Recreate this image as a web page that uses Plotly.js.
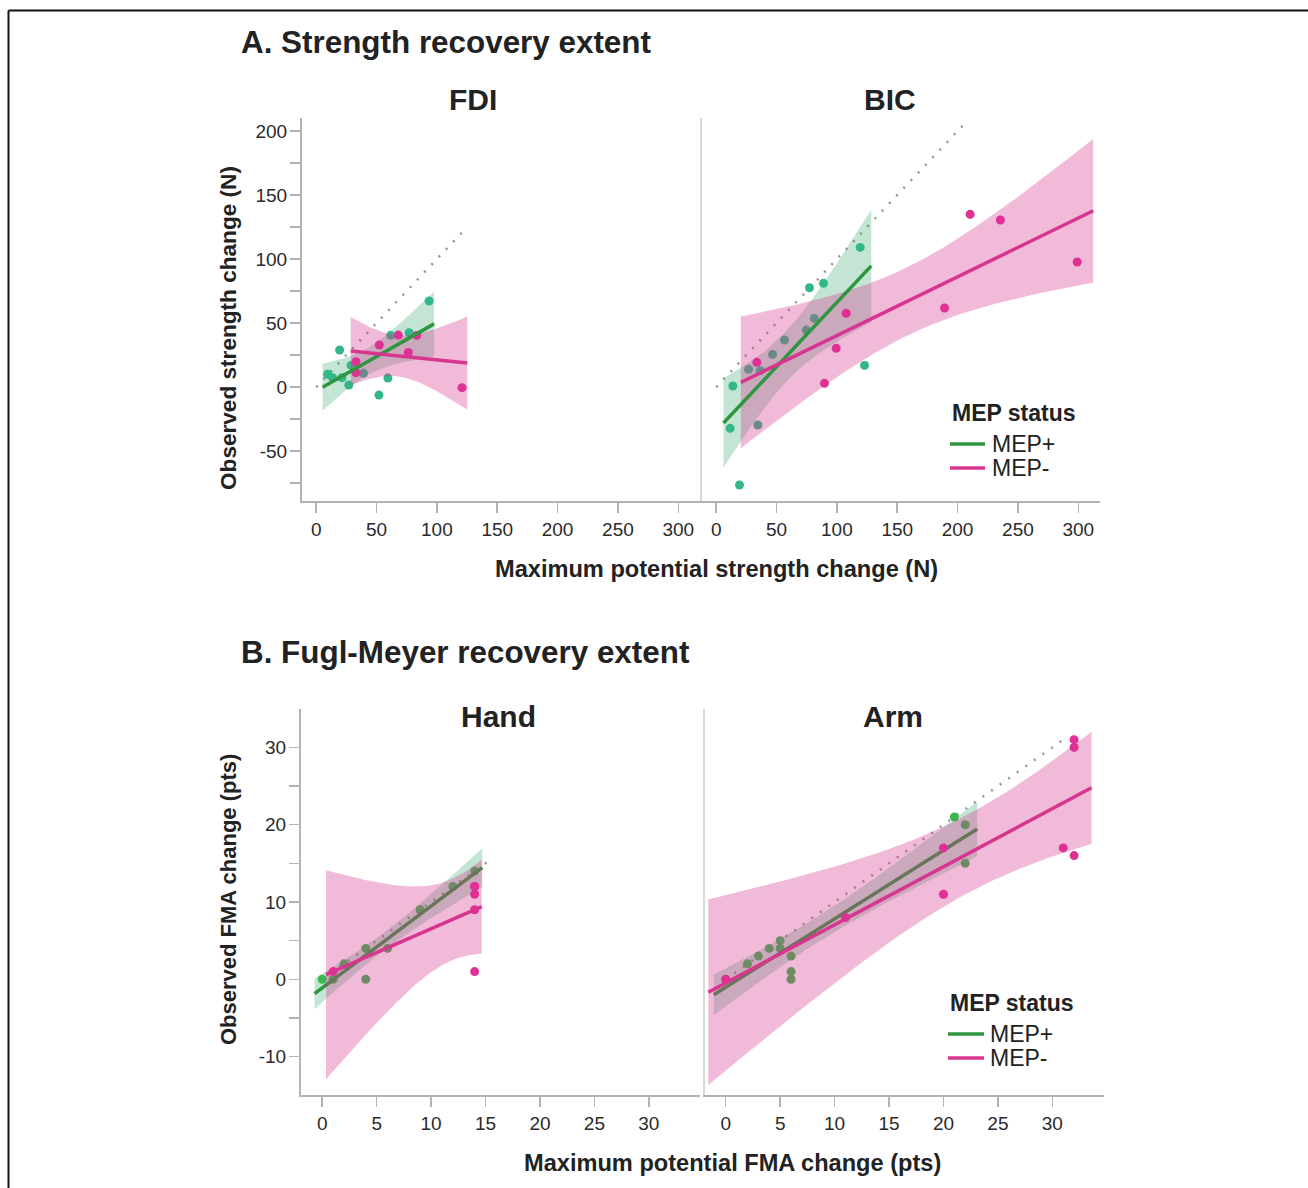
<!DOCTYPE html>
<html>
<head>
<meta charset="utf-8">
<script src="https://cdn.plot.ly/plotly-3.0.1.min.js"></script>
<style>html,body{margin:0;padding:0;background:#fff;}#chart{width:1308px;height:1188px;}</style>
</head>
<body>
<div id="chart"></div>
<script>
// ---------------- DATA ----------------
// Panel A, FDI (N)
const fdiPlusX  = [9.5, 13.6, 21.4, 27, 19.4, 28.9, 39.2, 52, 59.4, 61.7, 77, 93.5];
const fdiPlusY  = [10, 7.3, 7.3, 1.6, 28.9, 16.9, 10.7, -6.3, 7, 40.4, 42.4, 67.2];
const fdiMinusX = [33, 33, 52.3, 68, 76.3, 83.3, 120.8];
const fdiMinusY = [19.8, 11.2, 32.8, 40.6, 27, 40.3, -0.5];
// Panel A, BIC (N)
const bicPlusX  = [11.6, 13.8, 19.3, 26.8, 34.5, 36.5, 46.7, 56.6, 74.6, 77.3, 81.2, 88.9, 119.3, 122.9];
const bicPlusY  = [-32.3, 0.8, -76.6, 13.8, -29.7, 12.8, 25.5, 36.7, 44.5, 77.6, 53.6, 81, 109.1, 16.9];
const bicMinusX = [33.7, 89.7, 99.4, 107.7, 189.2, 210.4, 235.5, 299.1];
const bicMinusY = [19.3, 2.9, 30.2, 57.6, 61.7, 134.9, 130.5, 97.7];
// Panel B, Hand (pts)
const handPlusX  = [0, 1, 2, 4, 4, 6, 9, 12, 14];
const handPlusY  = [0, 0, 2, 4, 0, 4, 9, 12, 14];
const handMinusX = [1, 14, 14, 14, 14, 14];
const handMinusY = [1, 12, 12, 11, 9, 1];
// Panel B, Arm (pts)
const armPlusX  = [0, 2, 3, 4, 5, 5, 6, 6, 6, 21, 22, 22];
const armPlusY  = [0, 2, 3, 4, 5, 4, 3, 1, 0, 21, 20, 15];
const armMinusX = [0, 11, 20, 20, 31, 32, 32, 32];
const armMinusY = [0, 8, 17, 11, 17, 16, 31, 30];
// identity (y = x) reference line end, per panel
const identityEnd = {FDI: 124, BIC: 204, Hand: 15.4, Arm: 31};
// tick labels
const strengthTicks = [0, 50, 100, 150, 200, 250, 300];
const strengthYTicks = [-75, -50, -25, 0, 25, 50, 75, 100, 125, 150, 175, 200];
const fmaTicks = [0, 5, 10, 15, 20, 25, 30];
const fmaYTicks = [-10, -5, 0, 5, 10, 15, 20, 25, 30];
const groupNames = ['MEP+', 'MEP-'];

// ---------------- helpers ----------------
const W = 1308, H = 1188;
const PX = p => p / W;
const PY = p => 1 - p / H;
const FONT = 'Liberation Sans, Arial, Helvetica, sans-serif';
const T975 = [NaN,12.706,4.303,3.182,2.776,2.571,2.447,2.365,2.306,2.262,2.228,2.201,2.179,2.160,2.145,2.131,2.120,2.110,2.101,2.093,2.086,2.080,2.074,2.069,2.064,2.060,2.056,2.052,2.048,2.045,2.042];

function linfit(xs, ys) {
  const n = xs.length;
  const mx = xs.reduce((a, b) => a + b, 0) / n;
  const my = ys.reduce((a, b) => a + b, 0) / n;
  let sxx = 0, sxy = 0;
  for (let i = 0; i < n; i++) { sxx += (xs[i] - mx) ** 2; sxy += (xs[i] - mx) * (ys[i] - my); }
  const b = sxy / sxx, a = my - b * mx;
  let ss = 0;
  for (let i = 0; i < n; i++) ss += (ys[i] - a - b * xs[i]) ** 2;
  const s = Math.sqrt(ss / (n - 2));
  const t = T975[Math.min(n - 2, 30)];
  const xmin = Math.min(...xs), xmax = Math.max(...xs);
  const pad = 0.05 * (xmax - xmin);
  const lo = xmin - pad, hi = xmax + pad;
  const gx = [], gy = [], up = [], dn = [];
  const N = 80;
  for (let k = 0; k <= N; k++) {
    const x = lo + (hi - lo) * k / N;
    const yh = a + b * x;
    const se = s * Math.sqrt(1 / n + (x - mx) ** 2 / sxx);
    gx.push(x); gy.push(yh); up.push(yh + t * se); dn.push(yh - t * se);
  }
  return {gx, gy, up, dn};
}

const C = {
  ptGreenA: 'rgb(50,184,136)',
  ptGreenB: 'rgb(58,184,78)',
  lineGreen: 'rgb(46,150,62)',
  bandGreen: 'rgba(46,160,100,0.28)',
  ptPink: 'rgb(224,48,150)',
  linePink: 'rgb(216,53,143)',
  bandPink: 'rgba(214,52,143,0.34)',
  ident: 'rgb(150,150,150)'
};

function bandTrace(f, color, xa, ya) {
  return {x: f.gx.concat(f.gx.slice().reverse()), y: f.up.concat(f.dn.slice().reverse()),
    type: 'scatter', mode: 'lines', fill: 'toself', fillcolor: color, line: {width: 0, color: color},
    hoverinfo: 'skip', showlegend: false, xaxis: xa, yaxis: ya};
}
function lineTrace(f, color, xa, ya, name) {
  return {x: f.gx, y: f.gy, type: 'scatter', mode: 'lines', line: {color: color, width: 3.5},
    name: name, showlegend: false, xaxis: xa, yaxis: ya};
}
function ptTrace(xs, ys, color, xa, ya, name) {
  return {x: xs, y: ys, type: 'scatter', mode: 'markers', marker: {color: color, size: 9, line: {width: 0}},
    name: name, showlegend: false, xaxis: xa, yaxis: ya};
}
function identTrace(end, xa, ya) {
  return {x: [0, end], y: [0, end], type: 'scatter', mode: 'lines',
    line: {color: C.ident, width: 2.5, dash: '2px,8.5px'}, hoverinfo: 'skip', showlegend: false, xaxis: xa, yaxis: ya};
}

const traces = [];
// Panel A: green band, green points, pink band, pink points, green line, pink line
function panelA(px, py, mx, my, end, xa, ya) {
  const fp = linfit(px, py), fm = linfit(mx, my);
  traces.push(identTrace(end, xa, ya));
  traces.push(bandTrace(fp, C.bandGreen, xa, ya));
  traces.push(ptTrace(px, py, C.ptGreenA, xa, ya, groupNames[0]));
  traces.push(bandTrace(fm, C.bandPink, xa, ya));
  traces.push(ptTrace(mx, my, C.ptPink, xa, ya, groupNames[1]));
  traces.push(lineTrace(fp, C.lineGreen, xa, ya, groupNames[0]));
  traces.push(lineTrace(fm, C.linePink, xa, ya, groupNames[1]));
}
// Panel B: green band, green points, green line, pink band, pink points, pink line
function panelB(px, py, mx, my, end, xa, ya) {
  const fp = linfit(px, py), fm = linfit(mx, my);
  traces.push(identTrace(end, xa, ya));
  traces.push(bandTrace(fp, C.bandGreen, xa, ya));
  traces.push(ptTrace(px, py, C.ptGreenB, xa, ya, groupNames[0]));
  traces.push(lineTrace(fp, C.lineGreen, xa, ya, groupNames[0]));
  traces.push(bandTrace(fm, C.bandPink, xa, ya));
  traces.push(ptTrace(mx, my, C.ptPink, xa, ya, groupNames[1]));
  traces.push(lineTrace(fm, C.linePink, xa, ya, groupNames[1]));
}
panelA(fdiPlusX, fdiPlusY, fdiMinusX, fdiMinusY, identityEnd.FDI, 'x', 'y');
panelA(bicPlusX, bicPlusY, bicMinusX, bicMinusY, identityEnd.BIC, 'x2', 'y2');
panelB(handPlusX, handPlusY, handMinusX, handMinusY, identityEnd.Hand, 'x3', 'y3');
panelB(armPlusX, armPlusY, armMinusX, armMinusY, identityEnd.Arm, 'x4', 'y4');

// ---------------- axes ----------------
const AX = '#b3b3b3';
const tickFont = {family: FONT, size: 19, color: '#2a2a2a'};
function xAxis(dom, range, vals, anchor) {
  return {domain: [PX(dom[0]), PX(dom[1])], anchor: anchor, range: range, tickvals: vals,
    ticktext: vals.map(String), showline: true, linecolor: AX, linewidth: 2, ticks: 'outside',
    ticklen: 10, tickwidth: 1.5, tickcolor: AX, tickfont: tickFont, showgrid: false, zeroline: false,
    fixedrange: true, ticklabelstandoff: 0};
}
function yAxisMain(dom, range, vals, every, anchor) {
  return {domain: [PY(dom[1]), PY(dom[0])], anchor: anchor, range: range, tickvals: vals,
    ticktext: vals.map(v => (v % every === 0 ? String(v) : '')), showline: true, linecolor: AX, linewidth: 2,
    ticks: 'outside', ticklen: 10, tickwidth: 1.5, tickcolor: AX, tickfont: tickFont, showgrid: false,
    zeroline: false, fixedrange: true, ticklabelstandoff: -1};
}
function yAxisSide(dom, range, anchor) {
  return {domain: [PY(dom[1]), PY(dom[0])], anchor: anchor, range: range, showline: true,
    linecolor: '#d9d9d9', linewidth: 2, ticks: '', showticklabels: false, showgrid: false,
    zeroline: false, fixedrange: true};
}
const rangeAX = [-11.76, 318], rangeAY = [-89.06, 210.2];
const rangeBX = [-1.95, 34.7], rangeBY = [-14.97, 34.97];

// ---------------- text ----------------
function ann(text, x, y, size, opts) {
  return Object.assign({text: text, x: PX(x), y: PY(y), xref: 'paper', yref: 'paper', showarrow: false,
    font: {family: FONT, size: size, color: '#222'}, xanchor: 'center', yanchor: 'middle'}, opts || {});
}
const annotations = [
  ann('<b>A. Strength recovery extent</b>', 239, 42, 31.4, {xanchor: 'left'}),
  ann('<b>FDI</b>', 473, 99, 30),
  ann('<b>BIC</b>', 890, 99, 30),
  ann('<b>Maximum potential strength change (N)</b>', 716, 569, 23.6),
  ann('<b>Observed strength change (N)</b>', 228, 328, 22.6, {textangle: -90}),
  ann('<b>MEP status</b>', 950, 413, 23, {xanchor: 'left'}),
  ann(groupNames[0], 990, 444, 23, {xanchor: 'left'}),
  ann(groupNames[1], 990, 468, 23, {xanchor: 'left'}),
  ann('<b>B. Fugl-Meyer recovery extent</b>', 239, 652, 31.4, {xanchor: 'left'}),
  ann('<b>Hand</b>', 498, 717, 30),
  ann('<b>Arm</b>', 893, 717, 30),
  ann('<b>Maximum potential FMA change (pts)</b>', 733, 1163, 23.6),
  ann('<b>Observed FMA change (pts)</b>', 228, 900, 22, {textangle: -90}),
  ann('<b>MEP status</b>', 948, 1003, 23, {xanchor: 'left'}),
  ann(groupNames[0], 988, 1034, 23, {xanchor: 'left'}),
  ann(groupNames[1], 988, 1058, 23, {xanchor: 'left'})
];
function seg(x0, y0, x1, y1, color, width) {
  return {type: 'line', xref: 'paper', yref: 'paper', x0: PX(x0), y0: PY(y0), x1: PX(x1), y1: PY(y1),
    line: {color: color, width: width}};
}
const shapes = [
  seg(8.5, 10.5, 1308, 10.5, '#111', 2),
  seg(8.5, 10.5, 8.5, 1188, '#111', 2),
  seg(950, 444, 985, 444, C.lineGreen, 3.5),
  seg(950, 468, 985, 468, C.linePink, 3.5),
  seg(948, 1034, 984, 1034, C.lineGreen, 3.5),
  seg(948, 1058, 984, 1058, C.linePink, 3.5)
];

const layout = {
  width: W, height: H, margin: {l: 0, r: 0, t: 0, b: 0}, paper_bgcolor: '#fff', plot_bgcolor: '#fff',
  showlegend: false, font: {family: FONT},
  xaxis:  xAxis([302, 700], rangeAX, strengthTicks, 'y'),
  yaxis:  yAxisMain([118, 501], rangeAY, strengthYTicks, 50, 'x'),
  xaxis2: xAxis([702, 1100], rangeAX, strengthTicks, 'y2'),
  yaxis2: yAxisSide([118, 501], rangeAY, 'x2'),
  xaxis3: xAxis([301, 700], rangeBX, fmaTicks, 'y3'),
  yaxis3: yAxisMain([709, 1095], rangeBY, fmaYTicks, 10, 'x3'),
  xaxis4: xAxis([704.5, 1103.5], rangeBX, fmaTicks, 'y4'),
  yaxis4: yAxisSide([709, 1095], rangeBY, 'x4'),
  annotations: annotations, shapes: shapes
};
Plotly.newPlot('chart', traces, layout, {displayModeBar: false, staticPlot: true});
</script>
</body>
</html>
